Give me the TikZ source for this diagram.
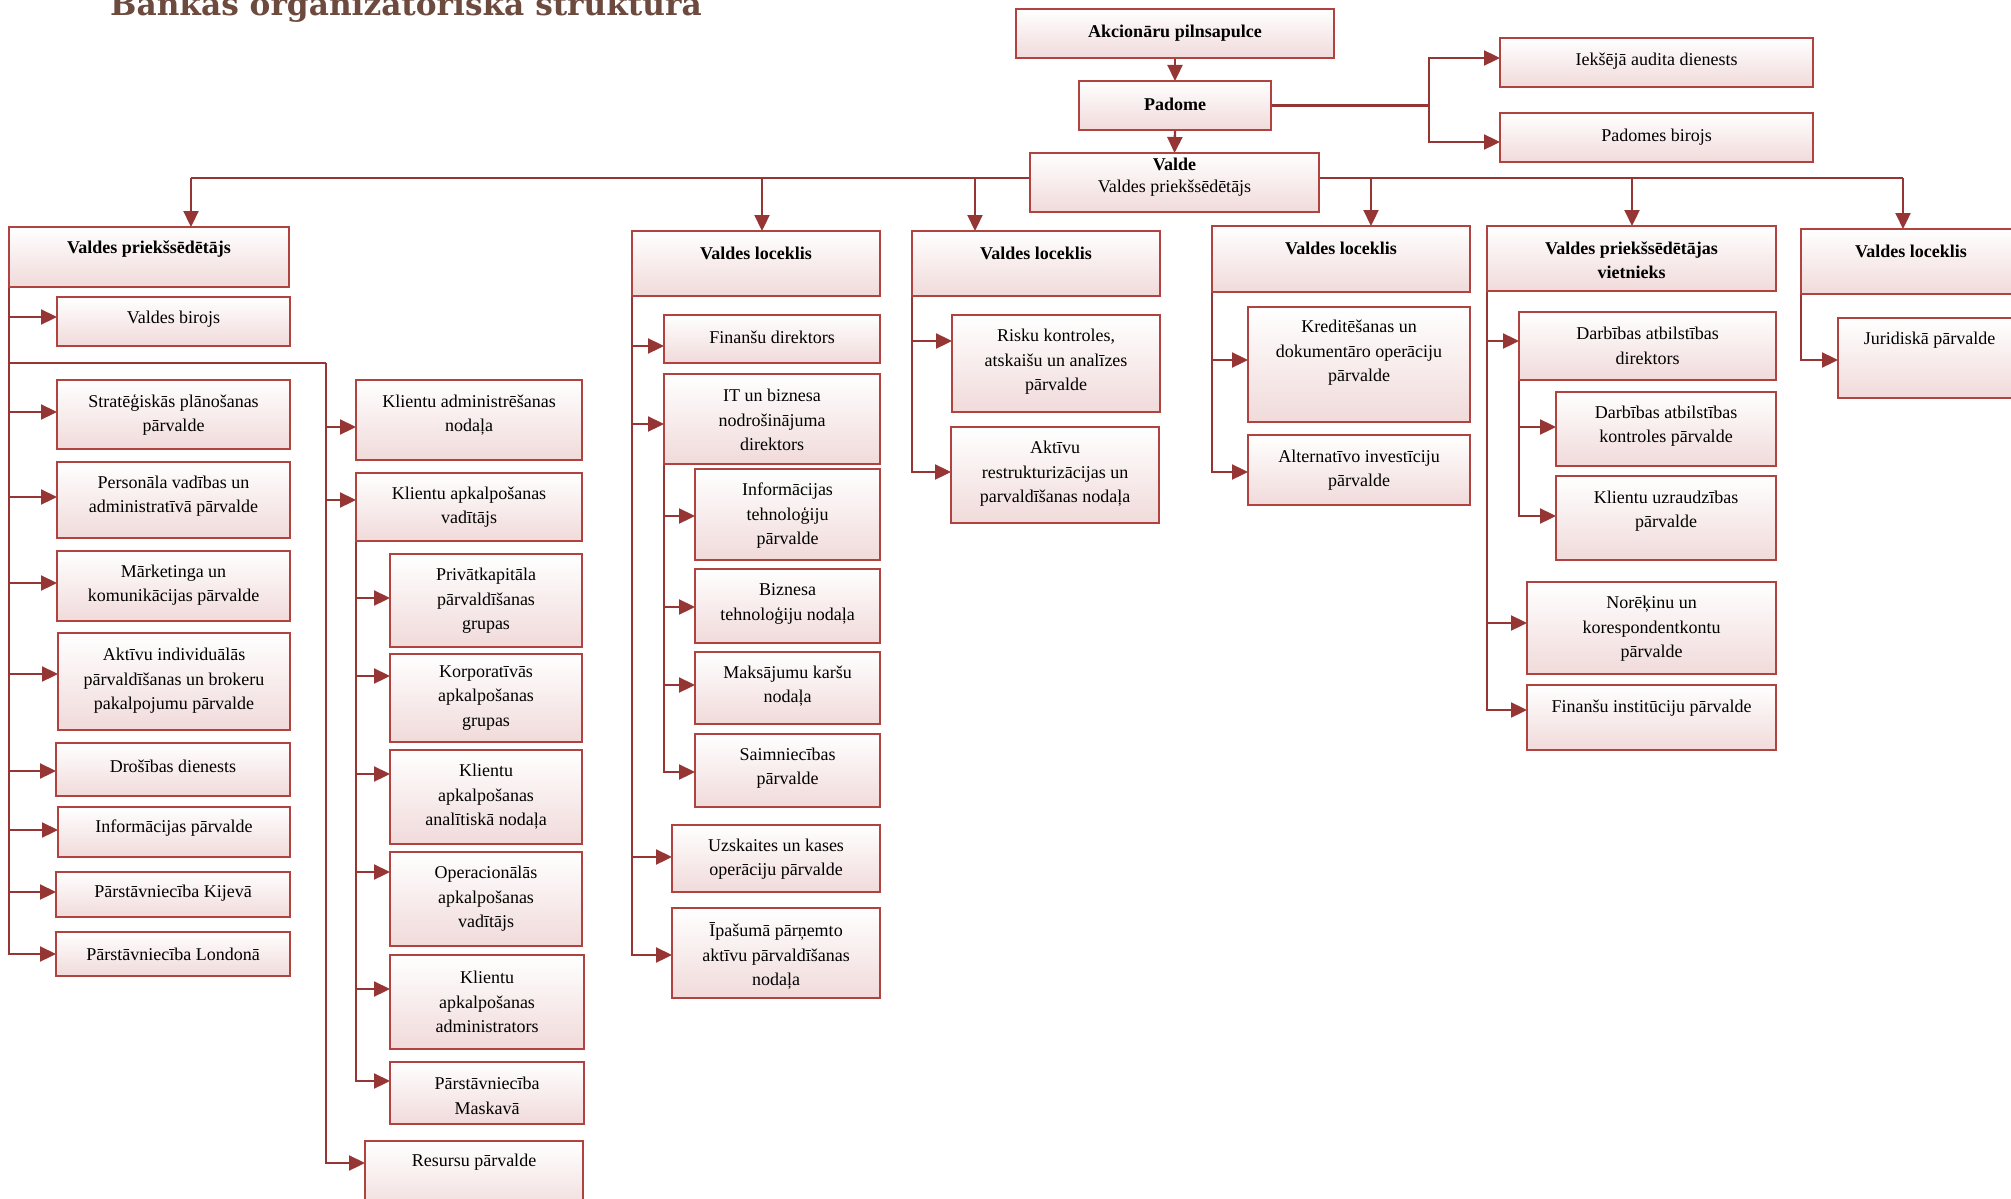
\documentclass[tikz,border=0pt]{standalone}
\usepackage{fontspec}
\setmainfont{Liberation Serif}
\newfontfamily\titlefont{DejaVu Serif}
\usetikzlibrary{arrows.meta}
\definecolor{boxred}{RGB}{176,66,64}
\definecolor{arrred}{RGB}{150,54,52}
\definecolor{pk}{RGB}{241,218,218}
\definecolor{titlebrown}{RGB}{108,74,62}
\pgfdeclarelayer{bg}
\pgfsetlayers{bg,main}
\tikzset{
  box/.style={draw=boxred, line width=2pt, top color=white, bottom color=pk, inner sep=0pt, outer sep=0pt},
  txt/.style={font=\fontsize{18}{24.5}\selectfont, align=center, inner sep=0pt, text=black},
  conn/.style={draw=arrred, line width=2.3pt},
  arr/.style={conn, -{Triangle[length=16pt,width=15pt]}},
}
% name, x1, y1, x2, y2, text centre y, text, arrow y
\newcommand{\bx}[8]{%
  \node[box, minimum width={#4-#2}, minimum height={#5-#3}] (#1) at ({(#2+#4)/2},{(#3+#5)/2}) {};
  \node[txt] (#1-t) at ({(#2+#4)/2},#6) {#7};
  \coordinate (#1-in) at (#2,#8);
}
\begin{document}
\begin{tikzpicture}[x=1pt,y=-1pt]
\useasboundingbox (0,0) rectangle (2011,1199);
% title
\node[anchor=base west, inner sep=0pt, text=titlebrown, font=\titlefont\bfseries\fontsize{31.2}{36}\selectfont] (title) at (110,16) {Bankas organizatoriskā struktūra};
% top
\bx{akc}{1016}{9}{1334}{58}{33}{\textbf{Akcionāru pilnsapulce}}{33}
\bx{pad}{1079}{81}{1271}{130}{104}{\textbf{Padome}}{104}
\bx{iek}{1500}{38}{1813}{87}{61}{Iekšējā audita dienests}{58}
\bx{pbir}{1500}{113}{1813}{162}{137}{Padomes birojs}{142}
\node[box, minimum width=289, minimum height=59] (valde) at (1174.5,182.5) {};
\node[txt, font=\fontsize{18}{22}\selectfont] (valde-t) at (1174.5,177) {\textbf{Valde}\\Valdes priekšsēdētājs};
% second row
\bx{vp}{9}{227}{289}{287}{249}{\textbf{Valdes priekšsēdētājs}}{249}
\bx{vl1}{632}{231}{880}{296}{253}{\textbf{Valdes loceklis}}{253}
\bx{vl2}{912}{231}{1160}{296}{253}{\textbf{Valdes loceklis}}{253}
\bx{vl3}{1212}{226}{1470}{292}{248}{\textbf{Valdes loceklis}}{248}
\node[box, minimum width=289, minimum height=65] (vv) at (1631.5,258.5) {};
\node[txt, font=\fontsize{18}{24}\selectfont] (vv-t) at (1631.5,260) {\textbf{Valdes priekšsēdētājas}\\\textbf{vietnieks}};
\bx{vl4}{1801}{229}{2021}{294}{251}{\textbf{Valdes loceklis}}{251}
% column 1
\bx{vbir}{57}{297}{290}{346}{319}{Valdes birojs}{317}
\bx{strat}{57}{380}{290}{449}{415}{Stratēģiskās plānošanas\\pārvalde}{412}
\bx{pers}{57}{462}{290}{538}{496}{Personāla vadības un\\administratīvā pārvalde}{497}
\bx{mark}{57}{551}{290}{621}{585}{Mārketinga un\\komunikācijas pārvalde}{583}
\bx{aktind}{58}{633}{290}{730}{681}{Aktīvu individuālās\\pārvaldīšanas un brokeru\\pakalpojumu pārvalde}{674}
\bx{dros}{56}{743}{290}{796}{766}{Drošības dienests}{771}
\bx{inf}{58}{807}{290}{857}{828}{Informācijas pārvalde}{830}
\bx{kij}{56}{872}{290}{917}{893}{Pārstāvniecība Kijevā}{892}
\bx{lon}{56}{932}{290}{976}{954}{Pārstāvniecība Londonā}{954}
% column 2
\bx{kadm}{356}{380}{582}{460}{415}{Klientu administrēšanas\\nodaļa}{427}
\bx{kav}{356}{473}{582}{541}{507}{Klientu apkalpošanas\\vadītājs}{500}
\bx{priv}{390}{554}{582}{647}{601}{Privātkapitāla\\pārvaldīšanas\\grupas}{598}
\bx{korp}{390}{654}{582}{742}{698}{Korporatīvās\\apkalpošanas\\grupas}{676}
\bx{anal}{390}{750}{582}{844}{797}{Klientu\\apkalpošanas\\analītiskā nodaļa}{774}
\bx{oper}{390}{852}{582}{946}{899}{Operacionālās\\apkalpošanas\\vadītājs}{872}
\bx{kadmin}{390}{955}{584}{1049}{1002}{Klientu\\apkalpošanas\\administrators}{989}
\bx{mask}{390}{1062}{584}{1124}{1096}{Pārstāvniecība\\Maskavā}{1081}
\bx{res}{365}{1141}{583}{1215}{1162}{Resursu pārvalde}{1163}
% column 3
\bx{fdir}{664}{315}{880}{363}{337}{Finanšu direktors}{346}
\bx{it}{664}{374}{880}{464}{420}{IT un biznesa\\nodrošinājuma\\direktors}{424}
\bx{itp}{695}{469}{880}{560}{516}{Informācijas\\tehnoloģiju\\pārvalde}{516}
\bx{biz}{695}{569}{880}{643}{604}{Biznesa\\tehnoloģiju nodaļa}{607}
\bx{maks}{695}{652}{880}{724}{686}{Maksājumu karšu\\nodaļa}{685}
\bx{saim}{695}{734}{880}{807}{768}{Saimniecības\\pārvalde}{772}
\bx{uzsk}{672}{825}{880}{892}{859}{Uzskaites un kases\\operāciju pārvalde}{857}
\bx{ipas}{672}{908}{880}{998}{956}{Īpašumā pārņemto\\aktīvu pārvaldīšanas\\nodaļa}{955}
% column 4
\bx{risk}{952}{315}{1160}{412}{362}{Risku kontroles,\\atskaišu un analīzes\\pārvalde}{341}
\bx{aktr}{951}{427}{1159}{523}{474}{Aktīvu\\restrukturizācijas un\\parvaldīšanas nodaļa}{472}
% column 5
\bx{kred}{1248}{307}{1470}{422}{353}{Kreditēšanas un\\dokumentāro operāciju\\pārvalde}{360}
\bx{alt}{1248}{435}{1470}{505}{470}{Alternatīvo investīciju\\pārvalde}{472}
% column 6
\bx{ddir}{1519}{312}{1776}{380}{346}{Darbības atbilstības\\direktors}{341}
\bx{dkon}{1556}{392}{1776}{466}{426}{Darbības atbilstības\\kontroles pārvalde}{427}
\bx{kuzr}{1556}{476}{1776}{560}{511}{Klientu uzraudzības\\pārvalde}{516}
\bx{nor}{1527}{582}{1776}{674}{629}{Norēķinu un\\korespondentkontu\\pārvalde}{623}
\bx{finst}{1527}{685}{1776}{750}{708}{Finanšu institūciju pārvalde}{710}
% column 7
\bx{jur}{1838}{318}{2021}{398}{340}{Juridiskā pārvalde}{360}
% junction coordinates
\path (pad.east) ++(158,0) coordinate (pj);
\coordinate (d1) at (191,178);
\coordinate (d2) at (762,178);
\coordinate (d3) at (975,178);
\coordinate (d4) at (1371,178);
\coordinate (d5) at (1632,178);
\coordinate (d6) at (1903,178);
\coordinate (br) at (326,363);
\begin{pgfonlayer}{bg}
\draw[arr] (akc.south) -- (pad.north);
\draw[arr] (pad.south) -- (valde.north);
\draw[arr] (pad.east) -- (pj) |- (iek-in);
\draw[arr] (pj) |- (pbir-in);
\draw[conn] (d1) -- (valde.west |- d1);
\draw[conn] (valde.east |- d6) -- (d6);
\draw[arr] (d1) -- (d1 |- vp.north);
\draw[arr] (d2) -- (d2 |- vl1.north);
\draw[arr] (d3) -- (d3 |- vl2.north);
\draw[arr] (d4) -- (d4 |- vl3.north);
\draw[arr] (d5) -- (d5 |- vv.north);
\draw[arr] (d6) -- (d6 |- vl4.north);
\foreach \b in {vbir,strat,pers,mark,aktind,dros,inf,kij,lon} \draw[arr] (vp.south west) |- (\b-in);
\draw[conn] (vp.south west |- br) -- (br);
\foreach \b in {kadm,kav,res} \draw[arr] (br) |- (\b-in);
\foreach \b in {priv,korp,anal,oper,kadmin,mask} \draw[arr] (kav.south west) |- (\b-in);
\foreach \b in {fdir,it,uzsk,ipas} \draw[arr] (vl1.south west) |- (\b-in);
\foreach \b in {itp,biz,maks,saim} \draw[arr] (it.south west) |- (\b-in);
\foreach \b in {risk,aktr} \draw[arr] (vl2.south west) |- (\b-in);
\foreach \b in {kred,alt} \draw[arr] (vl3.south west) |- (\b-in);
\foreach \b in {ddir,nor,finst} \draw[arr] (vv.south west) |- (\b-in);
\foreach \b in {dkon,kuzr} \draw[arr] (ddir.south west) |- (\b-in);
\draw[arr] (vl4.south west) |- (jur-in);
\end{pgfonlayer}
\end{tikzpicture}
\end{document}
